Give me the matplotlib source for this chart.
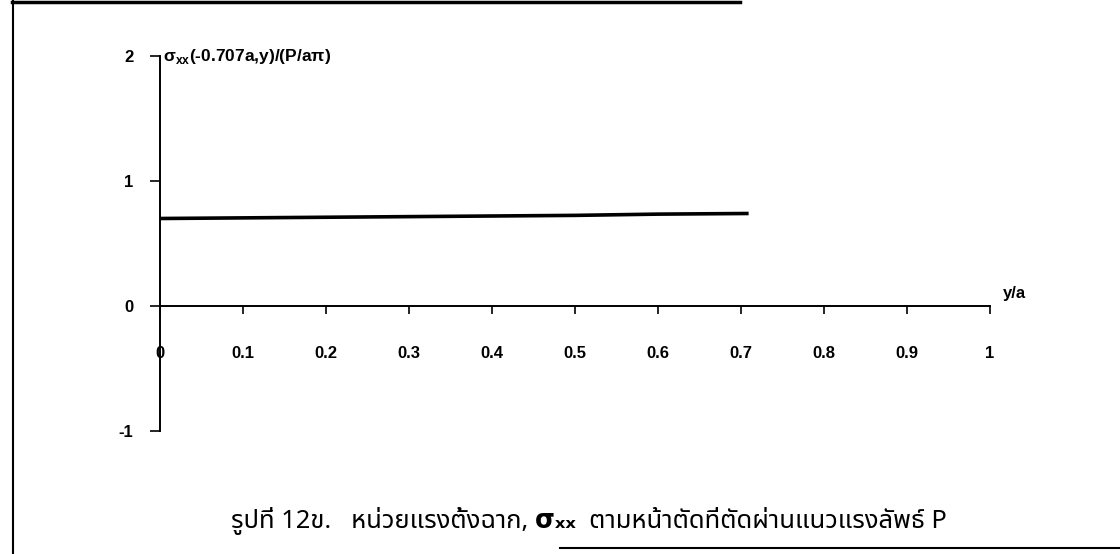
import matplotlib
matplotlib.use("Agg")
import matplotlib.pyplot as plt
from matplotlib.lines import Line2D

# stress along the cut line
y_over_a = [0.0, 0.1, 0.2, 0.3, 0.4, 0.5, 0.6, 0.707]
sigma_xx = [0.70, 0.705, 0.71, 0.715, 0.72, 0.725, 0.735, 0.74]

x_ticks = [0, 0.1, 0.2, 0.3, 0.4, 0.5, 0.6, 0.7, 0.8, 0.9, 1]
x_tick_labels = ["0", "0.1", "0.2", "0.3", "0.4", "0.5", "0.6", "0.7", "0.8", "0.9", "1"]
y_ticks = [-1, 0, 1, 2]

caption = "รูปที่ 12ข.   หน่วยแรงตั้งฉาก, σₓₓ  ตามหน้าตัดที่ตัดผ่านแนวแรงลัพธ์ P"

plt.rcParams["font.family"] = ["Liberation Sans", "DejaVu Sans"]
plt.rcParams["mathtext.fontset"] = "custom"
plt.rcParams["mathtext.bf"] = "Liberation Sans:bold"

fig = plt.figure(figsize=(11.2, 5.54), dpi=100)
ax = fig.add_axes([160 / 1120, 1 - 431 / 554, 830 / 1120, 375 / 554])

ax.plot(y_over_a, sigma_xx, color="black", lw=2.6)

ax.set_xlim(0, 1)
ax.set_ylim(-1, 2)
for s in ["top", "right"]:
    ax.spines[s].set_visible(False)
ax.spines["bottom"].set_position(("data", 0))
ax.spines["left"].set_linewidth(1.4)
ax.spines["bottom"].set_linewidth(1.4)

ax.set_xticks(x_ticks)
ax.set_xticklabels(x_tick_labels, fontsize=12, fontweight="bold")
ax.tick_params(axis="x", direction="out", length=6, width=1.2, pad=23)
ax.set_yticks(y_ticks)
ax.set_yticklabels([str(v) for v in y_ticks], fontsize=12, fontweight="bold")
ax.tick_params(axis="y", direction="out", length=7, width=1.2, pad=12)

ax.text(0.004, 2, r"σ$_{\mathbf{xx}}$(-0.707a,y)/(P/aπ)", fontsize=12.5, fontweight="bold",
        ha="left", va="center")
ax.text(1.016, 0.1, "y/a", fontsize=12, fontweight="bold", ha="left", va="center")

fig.text(0.526, 0.06, caption, fontsize=18.4, fontweight="bold", ha="center", va="center",
         family=["Noto Sans Thai", "DejaVu Sans"])

# page frame
fig.add_artist(Line2D([12 / 1120, 740 / 1120], [1 - 2 / 554] * 2, color="black", lw=2.5))
fig.add_artist(Line2D([13 / 1120] * 2, [0, 1], color="black", lw=1.5))
fig.add_artist(Line2D([560 / 1120, 1], [1 - 548 / 554] * 2, color="black", lw=1.5))

fig.savefig("out.png", dpi=100)
